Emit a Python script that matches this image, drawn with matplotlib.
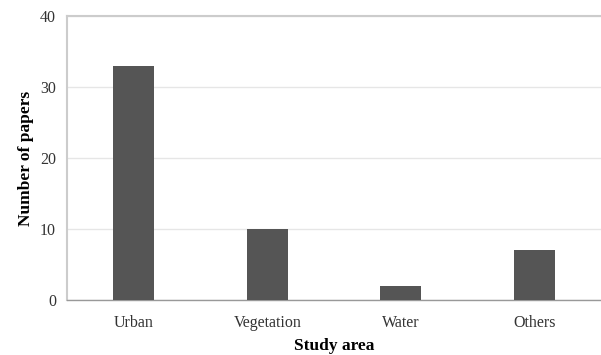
import matplotlib
matplotlib.use("Agg")
import matplotlib.pyplot as plt

categories = ["Urban", "Vegetation", "Water", "Others"]
values = [33, 10, 2, 7]
yticks = [0, 10, 20, 30, 40]

plt.rcParams['font.family'] = ['Liberation Serif', 'DejaVu Serif']

fig = plt.figure(figsize=(6.01, 3.55), dpi=100)
ax = fig.add_axes([67/601, 55/355, 534/601, 284/355])
x = range(len(categories))
ax.bar(x, values, width=0.31, color="#555555", zorder=3)
ax.set_xlim(-0.5, 3.5)
ax.set_ylim(0, 40)
ax.set_yticks(yticks)
ax.set_xticks(list(x))
ax.set_xticklabels(categories)
ax.yaxis.grid(True, color="#e6e6e6", linewidth=1, zorder=0)
ax.tick_params(axis='both', length=0, labelsize=11.5, colors="#333333")
ax.tick_params(axis='y', pad=8)
ax.tick_params(axis='x', pad=11)
for s in ['top', 'left']:
    ax.spines[s].set_color("#cccccc")
    ax.spines[s].set_linewidth(1.5)
ax.spines['right'].set_visible(False)
ax.spines['bottom'].set_color("#999999")
ax.spines['bottom'].set_linewidth(1.0)
ax.set_ylabel("Number of papers", fontsize=12.5, fontweight='bold', labelpad=4)
ax.set_xlabel("Study area", fontsize=12.5, fontweight='bold', labelpad=5)
fig.savefig("out.png", dpi=100)
